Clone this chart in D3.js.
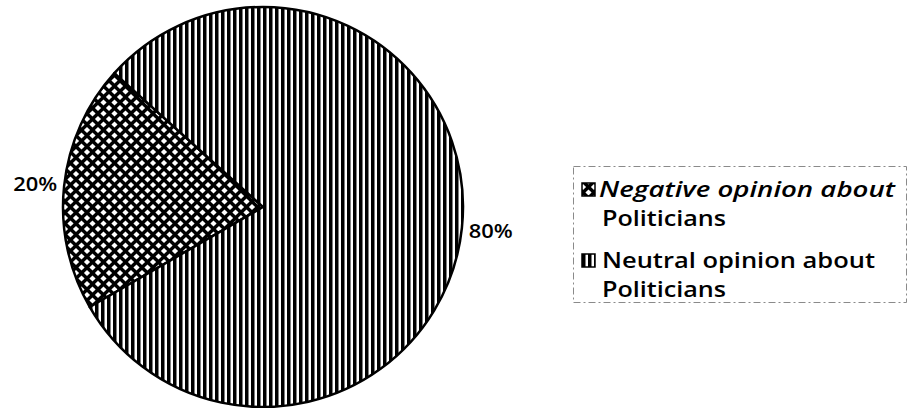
<!DOCTYPE html>
<html>
<head>
<meta charset="utf-8">
<script src="https://cdn.jsdelivr.net/npm/d3@7"></script>
<style>
  html, body { margin: 0; padding: 0; background: #fff; }
  svg { display: block; }
</style>
</head>
<body>
<svg id="chart" width="910" height="408"></svg>
<script>
// ---- data ----
const categories = ["Negative opinion about Politicians", "Neutral opinion about Politicians"];
const values = [20, 80];
const valueLabels = ["20%", "80%"];
const legendLines = [["Negative opinion about", "Politicians"], ["Neutral opinion about", "Politicians"]];
const patterns = ["cross", "stripes"];

const svg = d3.select("#chart");
const defs = svg.append("defs");
const FONT = "'Open Sans', 'DejaVu Sans', sans-serif";

// crosshatch pattern (white diamonds on black)
const pc = defs.append("pattern").attr("id", "cross")
  .attr("patternUnits", "userSpaceOnUse").attr("width", 11).attr("height", 11);
pc.append("rect").attr("width", 11).attr("height", 11).attr("fill", "#000");
[[0,0],[11,0],[0,11],[11,11],[5.5,5.5]].forEach(([cx, cy]) => {
  const h = 3.1;
  pc.append("polygon")
    .attr("points", `${cx},${cy-h} ${cx+h},${cy} ${cx},${cy+h} ${cx-h},${cy}`)
    .attr("fill", "#fff");
});

// vertical stripes pattern
const ps = defs.append("pattern").attr("id", "stripes")
  .attr("patternUnits", "userSpaceOnUse").attr("width", 6).attr("height", 6);
ps.append("rect").attr("width", 6).attr("height", 6).attr("fill", "#fff");
ps.append("rect").attr("width", 3.5).attr("height", 6).attr("fill", "#000");

// ---- pie ----
const cx = 263, cy = 207, r = 200;
const start = 240 * Math.PI / 180;
const pie = d3.pie().sort(null).value(d => d).startAngle(start).endAngle(start + 2 * Math.PI);
const arcs = pie(values);
const arc = d3.arc().innerRadius(0).outerRadius(r);
const labelArc = d3.arc().innerRadius(229).outerRadius(229);

const g = svg.append("g").attr("transform", `translate(${cx},${cy})`);
g.selectAll("path.slice").data(arcs).enter().append("path")
  .attr("class", "slice")
  .attr("d", arc)
  .attr("fill", (d, i) => `url(#${patterns[i]})`)
  .attr("stroke", "#000")
  .attr("stroke-width", 2.5)
  .attr("stroke-linejoin", "round");

g.selectAll("text.lbl").data(arcs).enter().append("text")
  .attr("class", "lbl")
  .attr("transform", d => `translate(${labelArc.centroid(d)})`)
  .attr("text-anchor", "middle")
  .attr("dominant-baseline", "central")
  .attr("font-family", FONT)
  .attr("font-weight", 600)
  .attr("font-size", 20)
  .attr("textLength", 44)
  .attr("lengthAdjust", "spacingAndGlyphs")
  .attr("fill", "#000")
  .text((d, i) => valueLabels[i]);

// ---- legend ----
const lg = svg.append("g");
lg.append("rect")
  .attr("x", 573.5).attr("y", 166.5).attr("width", 333).attr("height", 136)
  .attr("fill", "none").attr("stroke", "#8a8a8a").attr("stroke-width", 1)
  .attr("stroke-dasharray", "7,3,2,3");

const entryY = [197, 268];
const lineWidths = [[296, 124], [273, 124]];
categories.forEach((c, i) => {
  const y0 = entryY[i];
  lg.append("rect")
    .attr("x", 582).attr("y", y0 - 14).attr("width", 13).attr("height", 13)
    .attr("fill", `url(#${patterns[i]})`)
    .attr("stroke", "#000").attr("stroke-width", 1.5);
  legendLines[i].forEach((t, j) => {
    lg.append("text")
      .attr("x", j === 0 && i === 0 ? 599 : 602)
      .attr("y", y0 + j * 29)
      .attr("font-family", FONT)
      .attr("font-weight", 600)
      .attr("font-size", 22)
      .attr("font-style", (i === 0 && j === 0) ? "italic" : "normal")
      .attr("textLength", lineWidths[i][j])
      .attr("lengthAdjust", "spacingAndGlyphs")
      .attr("fill", "#000")
      .text(t);
  });
});
</script>
</body>
</html>
